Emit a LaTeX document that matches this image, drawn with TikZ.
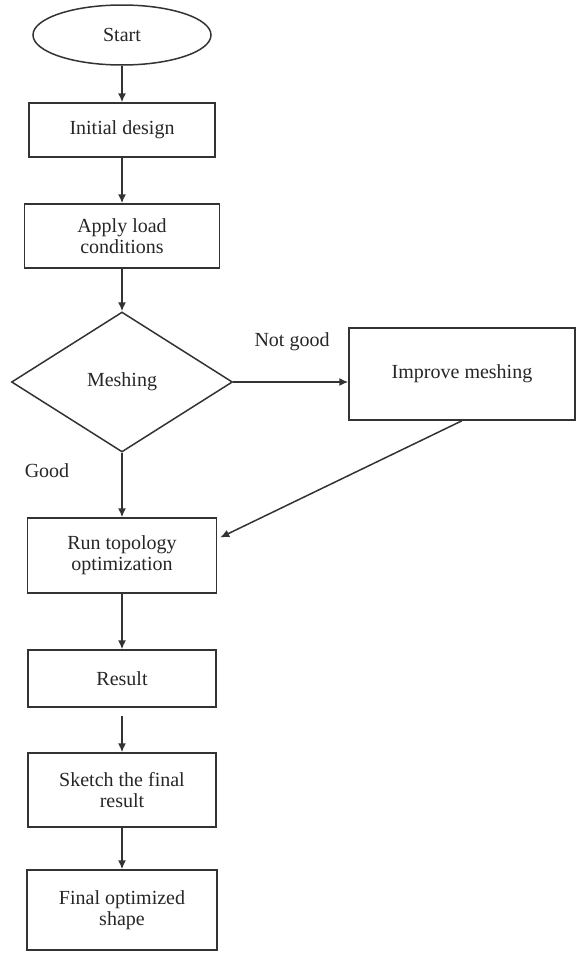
\documentclass[tikz,border=0pt]{standalone}
\usepackage{fontspec}
\setmainfont{Liberation Serif}
\usetikzlibrary{shapes.geometric,arrows.meta}

\begin{document}
\begin{tikzpicture}[x=0.5pt, y=-0.5pt, line width=0.75pt,
  every node/.style={font=\fontsize{10pt}{10.5pt}\selectfont, text=black!85},
  box/.style={draw=black!80, rectangle, align=center, inner sep=2pt},
  startnode/.style={draw=black!80, ellipse, minimum width=89pt, minimum height=30pt, inner sep=1pt},
  decision/.style={draw=black!80, diamond, minimum width=110.5pt, minimum height=70pt, aspect=1.58, inner sep=1pt},
  arr/.style={draw=black!80, -{Latex[length=4.5pt,width=4pt]}}]
\useasboundingbox (0,0) rectangle (576,953);

\node[startnode] (start) at (122,35) {Start};
\node[box, minimum width=93pt, minimum height=27pt] (init) at (122,130) {Initial design};
\node[box, minimum width=97.5pt, minimum height=32pt] (load) at (122,236) {Apply load\\conditions};
\node[decision] (mesh) at (122,382) {Meshing};
\node[box, minimum width=113pt, minimum height=46pt] (improve) at (462,374) {Improve meshing};
\node[box, minimum width=94.5pt, minimum height=37.5pt] (run) at (122,555.5) {Run topology\\optimization};
\node[box, minimum width=94pt, minimum height=28.5pt] (result) at (122,678.5) {Result};
\node[box, minimum width=94pt, minimum height=37pt] (sketch) at (122,790) {Sketch the final\\result};
\node[box, minimum width=95pt, minimum height=40pt] (final) at (122,910) {Final optimized\\shape};

\node (notgood) at (292,342) {Not good};
\node (good) at (47,471) {Good};

\draw[arr] (start) -- (init);
\draw[arr] (init) -- (load);
\draw[arr] (load) -- (mesh);
\draw[arr] (mesh.east) -- (mesh.east -| improve.west);
\draw[arr] (mesh) -- (run);
\draw[arr] (improve.south) -- ([xshift=1.5pt,yshift=9pt]run.east);
\draw[arr] (run) -- (result);
\draw[arr] ([yshift=-4pt]result.south) -- (sketch);
\draw[arr] (sketch) -- (final);
\end{tikzpicture}
\end{document}
